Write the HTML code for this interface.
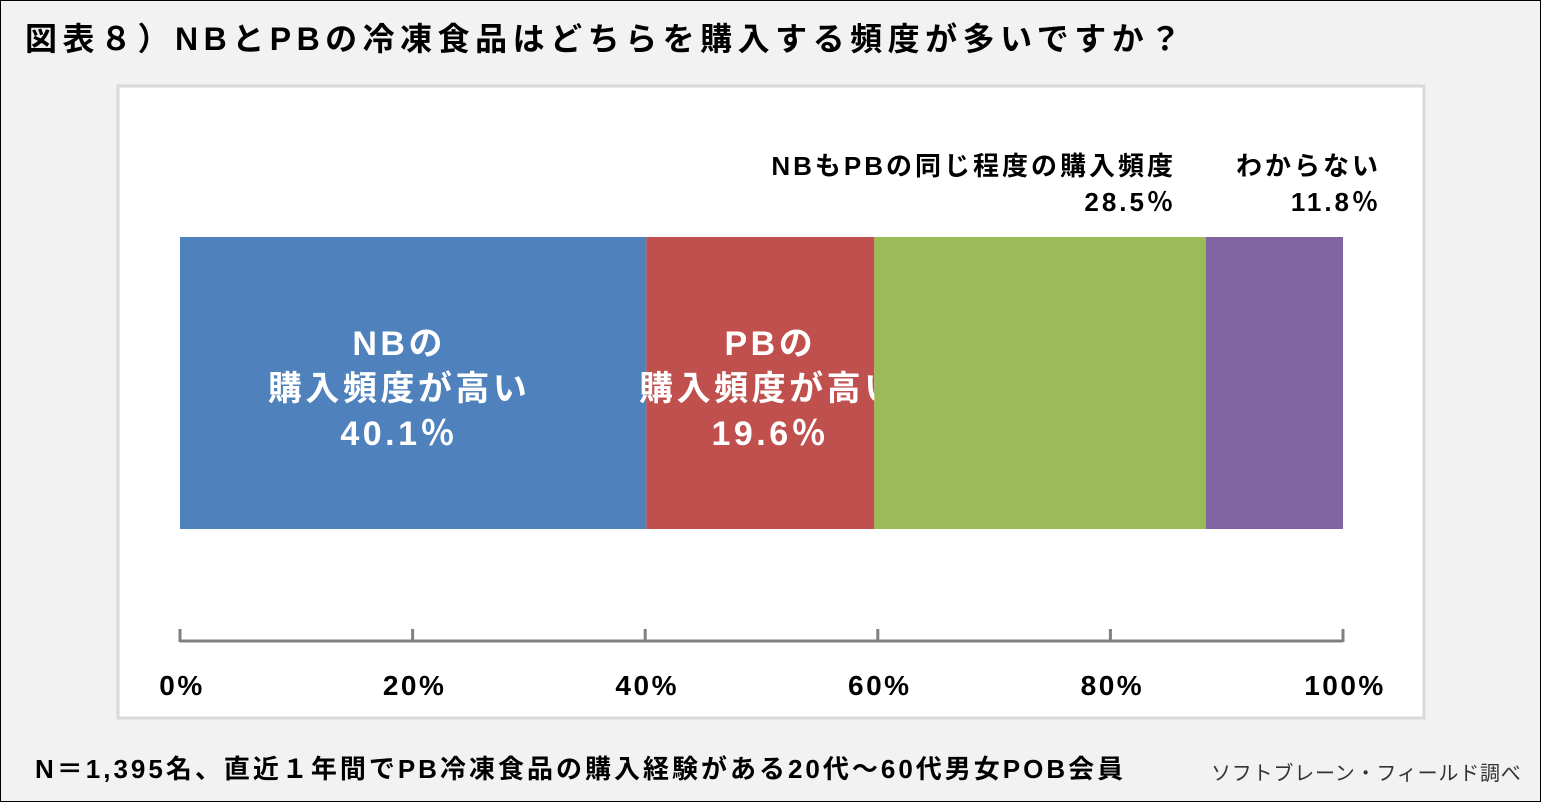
<!DOCTYPE html>
<html><head><meta charset="utf-8"><style>
body{margin:0;width:1541px;height:802px;overflow:hidden;background:#fff;font-family:"Liberation Sans","Noto Sans CJK JP",sans-serif;}
#wrap{position:absolute;left:0;top:0;width:1539px;height:800px;border:1px solid #000;background:#f2f2f2;}
.t{position:absolute;white-space:nowrap;font-weight:bold;color:#000;}
</style></head><body>
<div id="wrap">
<div class="t" style="left:24px;top:13px;font-size:32px;letter-spacing:5.5px;">図表８）NBとPBの冷凍食品はどちらを購入する頻度が多いですか？</div>
<svg id="chart" width="1541" height="802" style="position:absolute;left:-1px;top:-1px;font-family:'Liberation Sans','Noto Sans CJK JP',sans-serif;"></svg>
<div class="t" style="left:34px;top:748px;font-size:26px;letter-spacing:3px;">N＝1,395名、直近１年間でPB冷凍食品の購入経験がある20代～60代男女POB会員</div>
<div class="t" style="left:1210px;top:756px;font-size:20px;letter-spacing:0.8px;font-weight:normal;color:#333;">ソフトブレーン・フィールド調べ</div>
</div>
<script>
const categories=["NBの購入頻度が高い","PBの購入頻度が高い","NBもPBの同じ程度の購入頻度","わからない"];
const values=[40.1,19.6,28.5,11.8];
const colors=["#4F81BD","#C0504D","#9BBB59","#8064A2"];
const ticks=[0,20,40,60,80,100];
const NS="http://www.w3.org/2000/svg";
const svg=document.getElementById('chart');
function mk(t,a,p){const e=document.createElementNS(NS,t);for(const k in a)e.setAttribute(k,a[k]);(p||svg).appendChild(e);return e;}
const box=mk('rect',{x:118,y:86,width:1306,height:632,fill:'#fff',stroke:'#d9d9d9','stroke-width':3});


const x0=180,x1=1343,barY=237,barH=292;
const xs=v=>x0+(x1-x0)*v/100;
let cum=0;
values.forEach((v,i)=>{
 const r=mk('rect',{x:xs(cum),y:barY,width:xs(cum+v)-xs(cum),height:barH,fill:colors[i]});
 
 
 const cx=xs(cum+v/2)+(i==0?-14:10);
 if(i<2){
  const lines=[i==0?"NBの":"PBの","購入頻度が高い",v.toFixed(1)+"％"];
  lines.forEach((s,j)=>{const t=mk('text',{x:cx,y:355+j*45,'text-anchor':'middle','font-size':34,'letter-spacing':3.5,'font-weight':'bold',fill:'#fff'});t.textContent=s;
   
   });
 } else {
  const lines=[categories[i],v.toFixed(1)+"％"];
  lines.forEach((s,j)=>{const t=mk('text',{x:i==2?1176:1381,y:175+j*36,'text-anchor':'end','font-size':26,'letter-spacing':3,'font-weight':'bold',fill:'#000'});t.textContent=s;
   
   });
 }
 cum+=v;
});
const ax=mk('line',{x1:xs(0),x2:xs(100),y1:641,y2:641,stroke:'#808080','stroke-width':3});


ticks.forEach(v=>{
 const l=mk('line',{x1:xs(v),x2:xs(v),y1:629,y2:642,stroke:'#808080','stroke-width':3});
 
 
 const t=mk('text',{x:xs(v)+2,y:695,'text-anchor':'middle','font-size':28,'letter-spacing':2.5,'font-weight':'bold',fill:'#000'});
 t.textContent=v+'%';
 
 
});
</script>
</body></html>
